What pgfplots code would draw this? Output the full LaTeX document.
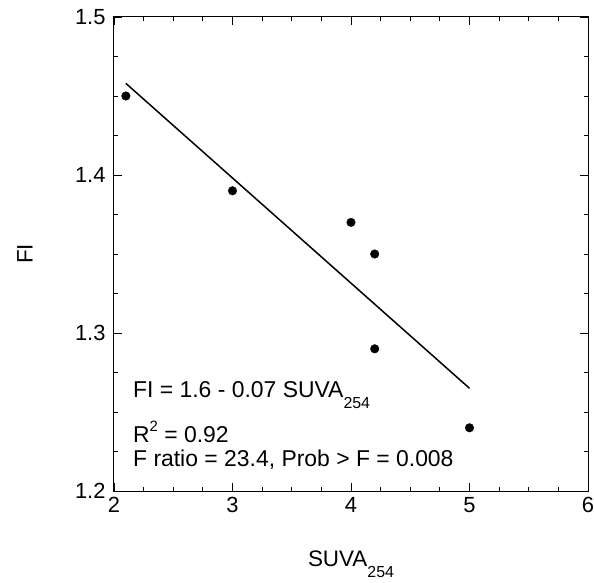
\documentclass[border=0pt]{standalone}
\usepackage{pgfplots}
\pgfplotsset{compat=1.18}
\usepackage{fontspec}
\setmainfont{Liberation Sans}
\newcommand{\mysub}[1]{\raisebox{-0.48em}{\fontsize{16}{16}\selectfont #1}}
\newcommand{\mysup}[1]{\raisebox{0.45em}{\fontsize{15}{15}\selectfont #1}}
\begin{document}
\begin{tikzpicture}
\begin{axis}[name=ax, scale only axis, width=474bp, height=474bp,
  xmin=2, xmax=6, ymin=1.2, ymax=1.5,
  xtick={2,3,4,5,6}, ytick={1.2,1.3,1.4,1.5},
  minor x tick num=3, minor y tick num=3,
  tick align=inside, major tick length=8bp, minor tick length=4.5bp,
  /pgf/number format/assume math mode=true,
  yticklabel style={/pgf/number format/fixed, /pgf/number format/precision=1, /pgf/number format/fixed zerofill, xshift=-5bp},
  xticklabel style={yshift=-3bp},
  tick label style={font=\fontsize{22}{26}\selectfont},
  xlabel={SUVA\mysub{254}}, ylabel={FI},
  every axis x label/.style={at={(axis description cs:0.5,-0.160)}, anchor=base, font=\fontsize{22.5}{26}\selectfont},
  every axis y label/.style={at={(axis description cs:-0.188,0.5)}, rotate=90, anchor=center, font=\fontsize{22.5}{26}\selectfont},
  axis line style={line width=1bp},
  every tick/.style={black, line width=0.8bp},
  clip=false,
]
\addplot[only marks, mark=*, mark size=4.3bp, black] coordinates {(2.1,1.45) (3,1.39) (4,1.37) (4.2,1.35) (4.2,1.29) (5,1.24)};
\addplot[black, line width=1.5bp] coordinates {(2.1,1.458) (5,1.265)};
\node[anchor=base west, inner sep=0, font=\fontsize{23}{27}\selectfont] at (axis cs:2.16,1.2589) {FI = 1.6 - 0.07 SUVA\mysub{254}};
\node[anchor=base west, inner sep=0, font=\fontsize{23}{27}\selectfont] at (axis cs:2.16,1.231) {R\mysup{2} = 0.92};
\node[anchor=base west, inner sep=0, font=\fontsize{23}{27}\selectfont] at (axis cs:2.16,1.2152) {F ratio = 23.4, Prob > F = 0.008};
\end{axis}
\pgfresetboundingbox
\path (ax.south west) ++(-114bp,-92bp) rectangle ++(594bp,583bp);
\end{tikzpicture}
\end{document}
